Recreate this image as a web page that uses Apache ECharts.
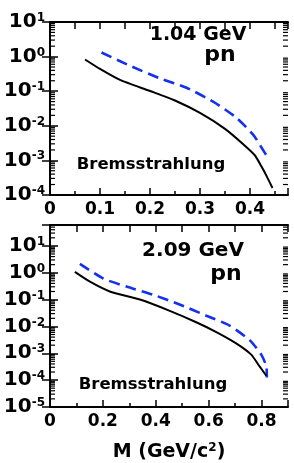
<!DOCTYPE html>
<html>
<head>
<meta charset="utf-8">
<script src="https://cdn.jsdelivr.net/npm/echarts@6/dist/echarts.min.js"></script>
<style>html,body{margin:0;padding:0;background:#fff;}#c{width:294px;height:463px;}</style>
</head>
<body>
<div id="c"></div>
<script>
// ---- data ----
// Top panel: 1.04 GeV pn
const topBlackM = [0.07, 0.10, 0.14, 0.20, 0.25, 0.30, 0.35, 0.387, 0.41, 0.423, 0.433, 0.445];
const topBlackV = [0.822, 0.439, 0.211, 0.101, 0.0537, 0.0234, 0.00813, 0.00288, 0.00138, 0.00066, 0.000355, 0.000158];
const topBlueM = [0.103, 0.16, 0.22, 0.273, 0.327, 0.373, 0.407, 0.423, 0.437];
const topBlueV = [1.31, 0.543, 0.234, 0.126, 0.049, 0.017, 0.00537, 0.00234, 0.00112];
// Bottom panel: 2.09 GeV pn
const botBlackM = [0.094, 0.151, 0.226, 0.34, 0.453, 0.553, 0.629, 0.704, 0.761, 0.792, 0.818];
const botBlackV = [1.07, 0.462, 0.201, 0.100, 0.038, 0.0143, 0.00617, 0.00234, 0.00089, 0.00033, 0.000145];
const botBlueM = [0.113, 0.201, 0.289, 0.39, 0.49, 0.591, 0.679, 0.755, 0.799, 0.818, 0.82];
const botBlueV = [2.13, 0.61, 0.305, 0.151, 0.066, 0.0251, 0.0108, 0.00309, 0.00089, 0.00033, 0.000126];
// axes / texts
const topYRange = [0.995e-4, 10];
const botYRange = [0.995e-5, 60];
const topXRange = [0, 0.476];
const botXRange = [0, 0.9];
const topLabel = '1.04 GeV';
const botLabel = '2.09 GeV';
const reactionLabel = 'pn';
const processLabel = 'Bremsstrahlung';
const xTitle = 'M (GeV/c';

const FONT = 'DejaVu Sans';
const zip = (a, b) => a.map((v, i) => [v, b[i]]);

function minorVals(lo, hi) {
  const out = [];
  for (let e = Math.round(Math.log10(lo)); e < Math.round(Math.log10(hi)) + 1; e++) {
    for (let k = 2; k <= 9; k++) {
      const v = k * Math.pow(10, e);
      if (v > lo && v < hi) out.push([0.2, v]);
    }
  }
  return out;
}

const yLabelFmt = function (v) {
  const l = Math.log10(v);
  const e = Math.round(l);
  if (Math.abs(l - e) > 1e-6) return '';
  return '{b|10}{s|' + e + '}';
};
const yRich = {
  b: { fontFamily: FONT, fontWeight: 'bold', fontSize: 20, color: '#000', lineHeight: 20, padding: [12, 0, 0, 0], verticalAlign: 'bottom' },
  s: { fontFamily: FONT, fontWeight: 'bold', fontSize: 12, color: '#000', lineHeight: 12, padding: [0, 0, 0, 0], verticalAlign: 'top' }
};

function yAxes(gi, range) {
  const common = {
    type: 'log', logBase: 10, gridIndex: gi, min: range[0], max: range[1],
    axisLine: { show: true, lineStyle: { color: '#000', width: 2 } },
    axisTick: { show: true, inside: true, length: 8, lineStyle: { color: '#000', width: 1.5 } },
    splitLine: { show: false }, minorTick: { show: false }, minorSplitLine: { show: false }
  };
  return [
    Object.assign({}, common, { position: 'left',
      axisLabel: { show: true, interval: 0, hideOverlap: false, formatter: yLabelFmt, rich: yRich, margin: 5, showMinLabel: false, showMaxLabel: true } }),
    Object.assign({}, common, { position: 'right', axisLabel: { show: false } })
  ];
}

function xAxes(gi, range, interval, topInterval, name) {
  const base = {
    type: 'value', gridIndex: gi, min: range[0], max: range[1],
    axisLine: { show: true, lineStyle: { color: '#000', width: 2 } },
    splitLine: { show: false }
  };
  const bottom = Object.assign({}, base, {
    position: 'bottom', interval: interval,
    axisTick: { show: true, inside: true, length: 7, lineStyle: { color: '#000', width: 1.5 } },
    minorTick: { show: true, splitNumber: 2, length: 4, lineStyle: { color: '#000', width: 1.5 } },
    axisLabel: {
      show: true, margin: 6, fontFamily: FONT, fontWeight: 'bold', fontSize: 17, color: '#000',
      formatter: function (v) {
        const r = Math.round(v / interval);
        if (Math.abs(v - r * interval) > 1e-9) return '';
        return v === 0 ? '0' : v.toFixed(1);
      }
    }
  });
  if (name) {
    bottom.name = '{t|' + xTitle + '}{s|2}{t|)}';
    bottom.nameLocation = 'middle';
    bottom.nameGap = 35;
    bottom.nameTextStyle = {
      rich: {
        t: { fontFamily: FONT, fontWeight: 'bold', fontSize: 19, color: '#000', lineHeight: 20, padding: [10, 0, 0, 0], verticalAlign: 'bottom' },
        s: { fontFamily: FONT, fontWeight: 'bold', fontSize: 12, color: '#000', lineHeight: 12, verticalAlign: 'top' }
      }
    };
  }
  const top = Object.assign({}, base, {
    position: 'top', interval: topInterval,
    axisTick: { show: true, inside: true, length: 7, lineStyle: { color: '#000', width: 1.5 } },
    axisLabel: { show: false }
  });
  return [bottom, top];
}

const minorTickSeries = function (xi, yi, range) {
  return {
    type: 'custom', xAxisIndex: xi, yAxisIndex: yi, silent: true, clip: false, z: 5,
    data: minorVals(range[0], range[1]),
    renderItem: function (params, api) {
      const y = api.coord([api.value(0), api.value(1)])[1];
      const cs = params.coordSys;
      const st = { stroke: '#000', lineWidth: 1.2 };
      return { type: 'group', children: [
        { type: 'line', shape: { x1: cs.x, y1: y, x2: cs.x + 5, y2: y }, style: st },
        { type: 'line', shape: { x1: cs.x + cs.width, y1: y, x2: cs.x + cs.width - 5, y2: y }, style: st }
      ]};
    }
  };
};

const blackStyle = { color: '#000', width: 2 };
const blueStyle = { color: '#1530f0', width: 2.6, type: [11, 6] };
const lineBase = { type: 'line', showSymbol: false, smooth: 0.2 };

const tStyle = (txt, size) => ({ text: txt, font: 'bold ' + size + 'px "' + FONT + '"', fill: '#000', textAlign: 'center', textVerticalAlign: 'middle' });

const chart = echarts.init(document.getElementById('c'), null, { renderer: 'canvas' });
chart.setOption({
  animation: false,
  backgroundColor: '#fff',
  grid: [
    { left: 50, right: 6, top: 12, height: 183 },
    { left: 50, right: 6, top: 225, height: 187 }
  ],
  xAxis: [].concat(xAxes(0, topXRange, 0.1, 0.05, false), xAxes(1, botXRange, 0.2, 0.1, true)),
  yAxis: [].concat(yAxes(0, topYRange), yAxes(1, botYRange)),
  series: [
    Object.assign({}, lineBase, { xAxisIndex: 0, yAxisIndex: 0, data: zip(topBlueM, topBlueV), lineStyle: blueStyle }),
    Object.assign({}, lineBase, { xAxisIndex: 0, yAxisIndex: 0, data: zip(topBlackM, topBlackV), lineStyle: blackStyle }),
    Object.assign({}, lineBase, { xAxisIndex: 2, yAxisIndex: 2, data: zip(botBlueM, botBlueV), lineStyle: blueStyle }),
    Object.assign({}, lineBase, { xAxisIndex: 2, yAxisIndex: 2, data: zip(botBlackM, botBlackV), lineStyle: blackStyle }),
    minorTickSeries(0, 0, topYRange),
    minorTickSeries(2, 2, botYRange)
  ],
  graphic: [
    { type: 'text', x: 198, y: 35, style: tStyle(topLabel, 19) },
    { type: 'text', x: 220, y: 55, style: tStyle(reactionLabel, 22) },
    { type: 'text', x: 151, y: 165, style: tStyle(processLabel, 16.5) },
    { type: 'text', x: 193, y: 251, style: tStyle(botLabel, 20) },
    { type: 'text', x: 226, y: 274, style: tStyle(reactionLabel, 22) },
    { type: 'text', x: 153, y: 385, style: tStyle(processLabel, 16.5) }
  ]
});
</script>
</body>
</html>
